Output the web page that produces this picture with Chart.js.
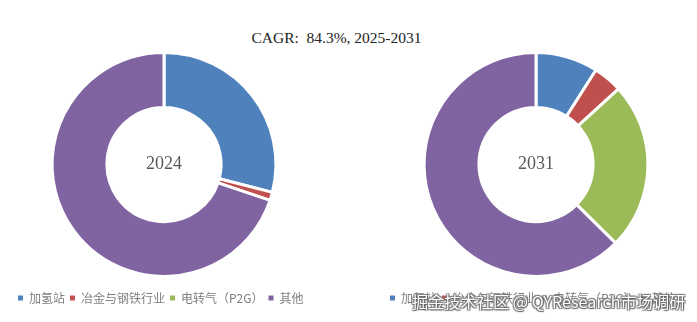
<!DOCTYPE html>
<html>
<head>
<meta charset="utf-8">
<script src="https://cdn.jsdelivr.net/npm/chart.js@4.4.0/dist/chart.umd.min.js"></script>
<style>
  body { margin: 0; width: 697px; height: 322px; background: #fff; position: relative; overflow: hidden; }
  .title { position: absolute; top: 29px; left: 0; width: 673px; text-align: center;
           font: 15.5px "Liberation Serif", serif; color: #222; white-space: pre; }
  .pie { position: absolute; top: 0; width: 326px; height: 322px; }
  .mark { position: absolute; left: 412px; top: 289px; font: 16.2px "Noto Sans CJK SC", sans-serif;
          color: #fff; white-space: nowrap;
          text-shadow: 0 0 1px #555, 1px 1px 1px #666, -1px -1px 1px #888, 1px -1px 1px #777, -1px 1px 1px #777; }
</style>
</head>
<body>
<div class="title">CAGR:  84.3%, 2025-2031</div>
<div class="pie" style="left:0"><canvas id="pie2024"></canvas></div>
<div class="pie" style="left:372px"><canvas id="pie2031"></canvas></div>
<div class="mark">掘金技术社区 @ QYResearch市场调研</div>
<script>
const categories = ["加氢站", "冶金与钢铁行业", "电转气（P2G）", "其他"];
const share2024 = [29.0, 1.2, 0, 69.8];
const share2031 = [9.0, 4.2, 24.2, 62.6];
const sliceColors = ["#4f81bd", "#c0504d", "#9bbb59", "#8064a2"];

// year written in the hole of each ring
const centerLabel = {
  id: "centerLabel",
  afterDraw(chart, args, opts) {
    const arc = chart.getDatasetMeta(0).data[0];
    const ctx = chart.ctx;
    ctx.save();
    ctx.font = '18px "Liberation Serif", serif';
    ctx.fillStyle = "#595959";
    ctx.textAlign = "center";
    ctx.textBaseline = "middle";
    ctx.fillText(opts.text, arc.x, arc.y);
    ctx.restore();
  },
};

function renderRing(id, values, year) {
  const ctx = document.getElementById(id).getContext("2d");
  new Chart(ctx, {
    type: "doughnut",
    data: {
      labels: categories,
      datasets: [
        {
          data: values,
          backgroundColor: sliceColors,
          borderColor: "#ffffff",
          borderWidth: 3,
        },
      ],
    },
    options: {
      responsive: true,
      maintainAspectRatio: false,
      animation: false,
      cutout: "51%",
      radius: "92.5%",
      layout: { padding: { top: 42, bottom: 8, left: 13, right: 11 } },
      plugins: {
        tooltip: { enabled: false },
        centerLabel: { text: year },
        legend: {
          position: "bottom",
          align: "start",
          labels: {
            color: "#7f7f7f",
            font: { size: 12, family: '"Noto Sans CJK SC", sans-serif' },
            boxWidth: 5,
            boxHeight: 5,
            padding: 5,
            // plain filled squares, no white outline
            generateLabels(chart) {
              return Chart.overrides.doughnut.plugins.legend.labels
                .generateLabels(chart)
                .map((item) => ({ ...item, lineWidth: 0 }));
            },
          },
        },
      },
    },
    plugins: [centerLabel],
  });
}

renderRing("pie2024", share2024, "2024");
renderRing("pie2031", share2031, "2031");
</script>
</body>
</html>
